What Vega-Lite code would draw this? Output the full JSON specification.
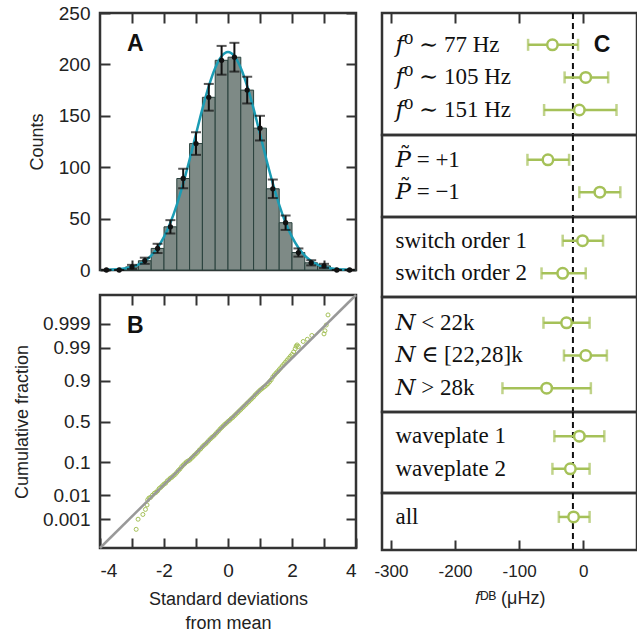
{
  "$schema": "https://vega.github.io/schema/vega-lite/v6.json",
  "padding": {"left": 12, "top": 2, "right": 0, "bottom": 0},
  "config": {
    "view": {"stroke": "#333333", "strokeWidth": 2.5},
    "axis": {"domain": false, "grid": false, "tickColor": "#333333", "tickWidth": 2, "tickSize": -10, "labelFont": "Liberation Sans", "labelFontSize": 19, "labelColor": "#222222", "labelPadding": 20, "titleFont": "Liberation Sans", "titleFontSize": 18, "titleFontWeight": "normal", "titleColor": "#222222"},
    "text": {"font": "Liberation Sans"}
  },
  "datasets": {
    "hist": [
      {"x0": -4.0, "x1": -3.6, "xc": -3.8, "count": 0, "lo": 0, "hi": 0},
      {"x0": -3.6, "x1": -3.2, "xc": -3.4, "count": 0, "lo": 0, "hi": 0},
      {"x0": -3.2, "x1": -2.8, "xc": -3.0, "count": 3, "lo": 1, "hi": 5},
      {"x0": -2.8, "x1": -2.4, "xc": -2.6, "count": 9, "lo": 6, "hi": 12},
      {"x0": -2.4, "x1": -2.0, "xc": -2.2, "count": 21, "lo": 16.5, "hi": 25.5},
      {"x0": -2.0, "x1": -1.6, "xc": -1.8, "count": 42, "lo": 35.5, "hi": 48.5},
      {"x0": -1.6, "x1": -1.2, "xc": -1.4, "count": 89, "lo": 79.5, "hi": 98.5},
      {"x0": -1.2, "x1": -0.8, "xc": -1.0, "count": 123, "lo": 112, "hi": 134},
      {"x0": -0.8, "x1": -0.4, "xc": -0.6, "count": 168, "lo": 155, "hi": 181},
      {"x0": -0.4, "x1": 0.0, "xc": -0.2, "count": 204, "lo": 190, "hi": 218},
      {"x0": 0.0, "x1": 0.4, "xc": 0.2, "count": 207, "lo": 193, "hi": 221},
      {"x0": 0.4, "x1": 0.8, "xc": 0.6, "count": 175, "lo": 162, "hi": 188},
      {"x0": 0.8, "x1": 1.2, "xc": 1.0, "count": 138, "lo": 126, "hi": 150},
      {"x0": 1.2, "x1": 1.6, "xc": 1.4, "count": 79, "lo": 70, "hi": 88},
      {"x0": 1.6, "x1": 2.0, "xc": 1.8, "count": 46, "lo": 39, "hi": 53},
      {"x0": 2.0, "x1": 2.4, "xc": 2.2, "count": 17, "lo": 13, "hi": 21},
      {"x0": 2.4, "x1": 2.8, "xc": 2.6, "count": 7, "lo": 4.5, "hi": 9.5},
      {"x0": 2.8, "x1": 3.2, "xc": 3.0, "count": 4, "lo": 2, "hi": 6},
      {"x0": 3.2, "x1": 3.6, "xc": 3.4, "count": 0, "lo": 0, "hi": 0},
      {"x0": 3.6, "x1": 4.0, "xc": 3.8, "count": 0, "lo": 0, "hi": 0}
    ],
    "curve": [
      {"x": -3.8, "y": 0.2}, {"x": -3.6, "y": 0.5}, {"x": -3.4, "y": 0.9}, {"x": -3.2, "y": 1.7},
      {"x": -3.0, "y": 3.0}, {"x": -2.8, "y": 5.3}, {"x": -2.6, "y": 8.8}, {"x": -2.4, "y": 14.0},
      {"x": -2.2, "y": 21.7}, {"x": -2.0, "y": 32.2}, {"x": -1.8, "y": 46.0}, {"x": -1.6, "y": 63.4},
      {"x": -1.4, "y": 84.2}, {"x": -1.2, "y": 107.5}, {"x": -1.0, "y": 132.3}, {"x": -0.8, "y": 156.8},
      {"x": -0.6, "y": 178.9}, {"x": -0.4, "y": 196.6}, {"x": -0.2, "y": 208.0}, {"x": 0.0, "y": 212.0},
      {"x": 0.2, "y": 208.0}, {"x": 0.4, "y": 196.6}, {"x": 0.6, "y": 178.9}, {"x": 0.8, "y": 156.8},
      {"x": 1.0, "y": 132.3}, {"x": 1.2, "y": 107.5}, {"x": 1.4, "y": 84.2}, {"x": 1.6, "y": 63.4},
      {"x": 1.8, "y": 46.0}, {"x": 2.0, "y": 32.2}, {"x": 2.2, "y": 21.7}, {"x": 2.4, "y": 14.0},
      {"x": 2.6, "y": 8.8}, {"x": 2.8, "y": 5.3}, {"x": 3.0, "y": 3.0}, {"x": 3.2, "y": 1.7},
      {"x": 3.4, "y": 0.9}, {"x": 3.6, "y": 0.5}, {"x": 3.8, "y": 0.2}
    ],
    "qq": [
      {"x": -2.87, "y": -3.41}, {"x": -2.81, "y": -3.09}, {"x": -2.66, "y": -2.94}, {"x": -2.58, "y": -2.78},
      {"x": -2.53, "y": -2.64}, {"x": -2.51, "y": -2.48}, {"x": -2.47, "y": -2.42}, {"x": -2.42, "y": -2.40},
      {"x": -2.36, "y": -2.33}, {"x": -2.30, "y": -2.27}, {"x": -2.25, "y": -2.24}, {"x": -2.20, "y": -2.19},
      {"x": -2.15, "y": -2.12}, {"x": -2.10, "y": -2.08}, {"x": -2.05, "y": -2.03}, {"x": -2.00, "y": -1.98},
      {"x": -1.95, "y": -1.95}, {"x": -1.90, "y": -1.88}, {"x": -1.85, "y": -1.84}, {"x": -1.80, "y": -1.79},
      {"x": -1.75, "y": -1.76}, {"x": -1.70, "y": -1.71}, {"x": -1.65, "y": -1.67}, {"x": -1.60, "y": -1.61},
      {"x": -1.55, "y": -1.55}, {"x": -1.50, "y": -1.50}, {"x": -1.45, "y": -1.43}, {"x": -1.40, "y": -1.38},
      {"x": -1.35, "y": -1.33}, {"x": -1.30, "y": -1.28}, {"x": -1.25, "y": -1.25}, {"x": -1.20, "y": -1.22},
      {"x": -1.15, "y": -1.17}, {"x": -1.10, "y": -1.12}, {"x": -1.05, "y": -1.07}, {"x": -1.00, "y": -1.02},
      {"x": -0.95, "y": -0.97}, {"x": -0.90, "y": -0.91}, {"x": -0.85, "y": -0.86}, {"x": -0.80, "y": -0.80},
      {"x": -0.75, "y": -0.75}, {"x": -0.70, "y": -0.71}, {"x": -0.65, "y": -0.66}, {"x": -0.60, "y": -0.60},
      {"x": -0.55, "y": -0.55}, {"x": -0.50, "y": -0.50}, {"x": -0.45, "y": -0.46}, {"x": -0.40, "y": -0.41},
      {"x": -0.35, "y": -0.35}, {"x": -0.30, "y": -0.30}, {"x": -0.25, "y": -0.24}, {"x": -0.20, "y": -0.19},
      {"x": -0.15, "y": -0.14}, {"x": -0.10, "y": -0.09}, {"x": -0.05, "y": -0.05}, {"x": 0.00, "y": 0.00},
      {"x": 0.05, "y": 0.04}, {"x": 0.10, "y": 0.09}, {"x": 0.15, "y": 0.13}, {"x": 0.20, "y": 0.18},
      {"x": 0.25, "y": 0.23}, {"x": 0.30, "y": 0.28}, {"x": 0.35, "y": 0.33}, {"x": 0.40, "y": 0.38},
      {"x": 0.45, "y": 0.43}, {"x": 0.50, "y": 0.48}, {"x": 0.55, "y": 0.53}, {"x": 0.60, "y": 0.58},
      {"x": 0.65, "y": 0.63}, {"x": 0.70, "y": 0.68}, {"x": 0.75, "y": 0.73}, {"x": 0.80, "y": 0.78},
      {"x": 0.85, "y": 0.84}, {"x": 0.90, "y": 0.89}, {"x": 0.95, "y": 0.94}, {"x": 1.00, "y": 0.99},
      {"x": 1.05, "y": 1.03}, {"x": 1.10, "y": 1.07}, {"x": 1.15, "y": 1.11}, {"x": 1.20, "y": 1.15},
      {"x": 1.25, "y": 1.20}, {"x": 1.30, "y": 1.26}, {"x": 1.35, "y": 1.32}, {"x": 1.40, "y": 1.41},
      {"x": 1.45, "y": 1.47}, {"x": 1.50, "y": 1.53}, {"x": 1.55, "y": 1.58}, {"x": 1.60, "y": 1.64},
      {"x": 1.65, "y": 1.70}, {"x": 1.70, "y": 1.76}, {"x": 1.75, "y": 1.82}, {"x": 1.80, "y": 1.88},
      {"x": 1.85, "y": 1.94}, {"x": 1.90, "y": 2.00}, {"x": 1.95, "y": 2.06}, {"x": 2.00, "y": 2.12},
      {"x": 2.05, "y": 2.20}, {"x": 2.10, "y": 2.30}, {"x": 2.13, "y": 2.38}, {"x": 2.16, "y": 2.42},
      {"x": 2.20, "y": 2.37}, {"x": 2.35, "y": 2.53}, {"x": 2.48, "y": 2.60}, {"x": 2.62, "y": 2.72},
      {"x": 3.00, "y": 2.77}, {"x": 3.03, "y": 2.87}, {"x": 3.07, "y": 3.05}, {"x": 3.125, "y": 3.37}
    ],
    "diag": [{"x": -4, "y": -4}, {"x": 4, "y": 4}],
    "c1": [
      {"label": "𝑓⁰ ∼ 77 Hz", "v": -48, "lo": -86, "hi": -8},
      {"label": "𝑓⁰ ∼ 105 Hz", "v": 4, "lo": -29, "hi": 39},
      {"label": "𝑓⁰ ∼ 151 Hz", "v": -6, "lo": -61, "hi": 52}
    ],
    "c2": [
      {"label": "𝑃̃ = +1", "v": -55, "lo": -87, "hi": -22},
      {"label": "𝑃̃ = −1", "v": 26, "lo": -6, "hi": 58}
    ],
    "c3": [
      {"label": "switch order 1", "v": -1, "lo": -32, "hi": 31},
      {"label": "switch order 2", "v": -32, "lo": -65, "hi": 4}
    ],
    "c4": [
      {"label": "𝑁 < 22k", "v": -26, "lo": -62, "hi": 10},
      {"label": "𝑁 ∈ [22,28]k", "v": 4, "lo": -30, "hi": 37},
      {"label": "𝑁 > 28k", "v": -57, "lo": -126, "hi": 12}
    ],
    "c5": [
      {"label": "waveplate 1", "v": -6, "lo": -45, "hi": 33},
      {"label": "waveplate 2", "v": -20, "lo": -48, "hi": 10}
    ],
    "c6": [
      {"label": "all", "v": -15, "lo": -38, "hi": 10}
    ],
    "one": [{"t": "x"}]
  },
  "spacing": 9,
  "hconcat": [
    {
      "spacing": 25,
      "bounds": "flush",
      "vconcat": [
        {
          "width": 256, "height": 257,
          "resolve": {"axis": {"x": "independent", "y": "independent"}},
          "layer": [
            {
              "data": {"name": "hist"},
              "mark": {"type": "rect", "fill": "#7e8a86", "stroke": "#28403c", "strokeWidth": 1},
              "encoding": {
                "x": {"field": "x0", "type": "quantitative", "scale": {"domain": [-4, 4], "nice": false, "zero": false}, "axis": {"orient": "bottom", "values": [-3, -2, -1, 0, 1, 2, 3], "labels": false, "title": null}},
                "x2": {"field": "x1"},
                "y": {"field": "count", "type": "quantitative", "scale": {"domain": [0, 250], "nice": false}, "axis": {"orient": "left", "values": [0, 50, 100, 150, 200, 250], "title": "Counts", "titlePadding": 12}},
                "y2": {"datum": 0}
              }
            },
            {
              "data": {"name": "curve"},
              "mark": {"type": "line", "color": "#1b9cb4", "strokeWidth": 2.5, "interpolate": "monotone"},
              "encoding": {
                "x": {"field": "x", "type": "quantitative", "axis": {"orient": "top", "values": [-3, -2, -1, 0, 1, 2, 3], "labels": false, "title": null}},
                "y": {"field": "y", "type": "quantitative", "axis": {"orient": "right", "values": [0, 50, 100, 150, 200, 250], "labels": false, "title": null}}
              }
            },
            {
              "data": {"name": "hist"},
              "mark": {"type": "rule", "color": "#111111", "strokeWidth": 2},
              "encoding": {
                "x": {"field": "xc", "type": "quantitative", "axis": null},
                "y": {"field": "lo", "type": "quantitative", "axis": null},
                "y2": {"field": "hi"}
              }
            },
            {
              "data": {"name": "hist"},
              "mark": {"type": "tick", "orient": "horizontal", "color": "#111111", "size": 10, "thickness": 2},
              "encoding": {
                "x": {"field": "xc", "type": "quantitative", "axis": null},
                "y": {"field": "lo", "type": "quantitative", "axis": null}
              }
            },
            {
              "data": {"name": "hist"},
              "mark": {"type": "tick", "orient": "horizontal", "color": "#111111", "size": 10, "thickness": 2},
              "encoding": {
                "x": {"field": "xc", "type": "quantitative", "axis": null},
                "y": {"field": "hi", "type": "quantitative", "axis": null}
              }
            },
            {
              "data": {"name": "hist"},
              "mark": {"type": "point", "shape": "circle", "filled": true, "color": "#111111", "size": 28, "opacity": 1},
              "encoding": {
                "x": {"field": "xc", "type": "quantitative", "axis": null},
                "y": {"field": "count", "type": "quantitative", "axis": null}
              }
            },
            {
              "data": {"name": "one"},
              "mark": {"type": "text", "text": "A", "fontSize": 23, "fontWeight": "bold", "align": "left", "baseline": "alphabetic", "color": "#111111"},
              "encoding": {
                "x": {"datum": -3.16, "type": "quantitative", "axis": null},
                "y": {"datum": 213, "type": "quantitative", "axis": null}
              }
            }
          ]
        },
        {
          "width": 256, "height": 253,
          "resolve": {"axis": {"x": "independent", "y": "independent"}},
          "layer": [
            {
              "data": {"name": "qq"},
              "mark": {"type": "point", "shape": "circle", "filled": false, "color": "#a5c158", "size": 16, "strokeWidth": 1, "opacity": 1},
              "encoding": {
                "x": {"field": "x", "type": "quantitative", "scale": {"domain": [-4, 4], "nice": false, "zero": false}, "axis": {"orient": "bottom", "values": [-4, -3, -2, -1, 0, 1, 2, 3, 4], "labelExpr": "datum.value % 2 === 0 ? '' + datum.value : ''", "labelPadding": 23, "title": ["Standard deviations", "from mean"], "titlePadding": 10, "titleLineHeight": 24}},
                "y": {"field": "y", "type": "quantitative", "scale": {"domain": [-4, 4], "nice": false, "zero": false}, "axis": {"orient": "left", "values": [-3.0902, -2.3263, -1.2816, 0, 1.2816, 2.3263, 3.0902], "labelExpr": "datum.value < -3 ? '0.001' : datum.value < -2 ? '0.01' : datum.value < -1 ? '0.1' : datum.value < 1 ? '0.5' : datum.value < 2 ? '0.9' : datum.value < 3 ? '0.99' : '0.999'", "title": "Cumulative fraction", "titlePadding": 11}}
              }
            },
            {
              "data": {"name": "diag"},
              "mark": {"type": "line", "color": "#999999", "strokeWidth": 2.5},
              "encoding": {
                "x": {"field": "x", "type": "quantitative", "axis": {"orient": "top", "values": [-3, -2, -1, 0, 1, 2, 3], "labels": false, "title": null}},
                "y": {"field": "y", "type": "quantitative", "axis": {"orient": "right", "values": [-3.0902, -2.3263, -1.2816, 0, 1.2816, 2.3263, 3.0902], "labels": false, "title": null}}
              }
            },
            {
              "data": {"name": "one"},
              "mark": {"type": "text", "text": "B", "fontSize": 23, "fontWeight": "bold", "align": "left", "baseline": "alphabetic", "color": "#111111"},
              "encoding": {
                "x": {"datum": -3.16, "type": "quantitative", "axis": null},
                "y": {"datum": 2.8, "type": "quantitative", "axis": null}
              }
            }
          ]
        }
      ]
    },
    {
      "spacing": 0,
      "bounds": "flush",
      "vconcat": [
        {
          "width": 255, "height": 122,
          "data": {"name": "c1"},
          "layer": [
            {"data": {"name": "one"}, "mark": {"type": "rule", "color": "#111111", "strokeWidth": 2, "strokeDash": [6, 4]}, "encoding": {"x": {"datum": -16, "type": "quantitative", "scale": {"domain": [-314, 84], "nice": false, "zero": false}, "axis": {"orient": "top", "values": [-300, -250, -200, -150, -100, -50, 0, 50], "labels": false, "title": null}}}},
            {"mark": {"type": "rule", "color": "#a5c158", "strokeWidth": 2.5}, "encoding": {"x": {"field": "lo", "type": "quantitative"}, "x2": {"field": "hi"}, "y": {"field": "label", "type": "nominal", "sort": null, "scale": {"type": "point", "padding": 0.871, "align": 0.56}, "axis": null}}},
            {"mark": {"type": "tick", "color": "#a5c158", "size": 12, "thickness": 2.5}, "encoding": {"x": {"field": "lo", "type": "quantitative"}, "y": {"field": "label", "type": "nominal", "sort": null, "axis": null}}},
            {"mark": {"type": "tick", "color": "#a5c158", "size": 12, "thickness": 2.5}, "encoding": {"x": {"field": "hi", "type": "quantitative"}, "y": {"field": "label", "type": "nominal", "sort": null, "axis": null}}},
            {"mark": {"type": "point", "shape": "circle", "filled": true, "fill": "white", "stroke": "#a5c158", "strokeWidth": 2.5, "size": 110, "opacity": 1}, "encoding": {"x": {"field": "v", "type": "quantitative"}, "y": {"field": "label", "type": "nominal", "sort": null, "axis": null}}},
            {"mark": {"type": "text", "font": "Liberation Serif, DejaVu Serif", "fontSize": 23, "align": "left", "baseline": "middle", "color": "#111111"}, "encoding": {"x": {"datum": -293, "type": "quantitative"}, "y": {"field": "label", "type": "nominal", "sort": null, "axis": null}, "text": {"field": "label"}}},
            {"data": {"name": "one"}, "mark": {"type": "text", "text": "C", "fontSize": 23, "fontWeight": "bold", "align": "left", "baseline": "middle", "color": "#111111"}, "encoding": {"x": {"datum": 16.5, "type": "quantitative"}, "y": {"datum": "𝑓⁰ ∼ 77 Hz", "type": "nominal", "axis": null}}}
          ]
        },
        {
          "width": 255, "height": 82,
          "data": {"name": "c2"},
          "layer": [
            {"data": {"name": "one"}, "mark": {"type": "rule", "color": "#111111", "strokeWidth": 2, "strokeDash": [6, 4]}, "encoding": {"x": {"datum": -16, "type": "quantitative", "scale": {"domain": [-314, 84], "nice": false, "zero": false}, "axis": null}}},
            {"mark": {"type": "rule", "color": "#a5c158", "strokeWidth": 2.5}, "encoding": {"x": {"field": "lo", "type": "quantitative", "axis": null}, "x2": {"field": "hi"}, "y": {"field": "label", "type": "nominal", "sort": null, "scale": {"type": "point", "padding": 0.765, "align": 0.5}, "axis": null}}},
            {"mark": {"type": "tick", "color": "#a5c158", "size": 12, "thickness": 2.5}, "encoding": {"x": {"field": "lo", "type": "quantitative", "axis": null}, "y": {"field": "label", "type": "nominal", "sort": null, "axis": null}}},
            {"mark": {"type": "tick", "color": "#a5c158", "size": 12, "thickness": 2.5}, "encoding": {"x": {"field": "hi", "type": "quantitative", "axis": null}, "y": {"field": "label", "type": "nominal", "sort": null, "axis": null}}},
            {"mark": {"type": "point", "shape": "circle", "filled": true, "fill": "white", "stroke": "#a5c158", "strokeWidth": 2.5, "size": 110, "opacity": 1}, "encoding": {"x": {"field": "v", "type": "quantitative", "axis": null}, "y": {"field": "label", "type": "nominal", "sort": null, "axis": null}}},
            {"mark": {"type": "text", "font": "Liberation Serif, DejaVu Serif", "fontSize": 23, "align": "left", "baseline": "middle", "color": "#111111"}, "encoding": {"x": {"datum": -293, "type": "quantitative", "axis": null}, "y": {"field": "label", "type": "nominal", "sort": null, "axis": null}, "text": {"field": "label"}}}
          ]
        },
        {
          "width": 255, "height": 80,
          "data": {"name": "c3"},
          "layer": [
            {"data": {"name": "one"}, "mark": {"type": "rule", "color": "#111111", "strokeWidth": 2, "strokeDash": [6, 4]}, "encoding": {"x": {"datum": -16, "type": "quantitative", "scale": {"domain": [-314, 84], "nice": false, "zero": false}, "axis": null}}},
            {"mark": {"type": "rule", "color": "#a5c158", "strokeWidth": 2.5}, "encoding": {"x": {"field": "lo", "type": "quantitative", "axis": null}, "x2": {"field": "hi"}, "y": {"field": "label", "type": "nominal", "sort": null, "scale": {"type": "point", "padding": 0.723, "align": 0.5}, "axis": null}}},
            {"mark": {"type": "tick", "color": "#a5c158", "size": 12, "thickness": 2.5}, "encoding": {"x": {"field": "lo", "type": "quantitative", "axis": null}, "y": {"field": "label", "type": "nominal", "sort": null, "axis": null}}},
            {"mark": {"type": "tick", "color": "#a5c158", "size": 12, "thickness": 2.5}, "encoding": {"x": {"field": "hi", "type": "quantitative", "axis": null}, "y": {"field": "label", "type": "nominal", "sort": null, "axis": null}}},
            {"mark": {"type": "point", "shape": "circle", "filled": true, "fill": "white", "stroke": "#a5c158", "strokeWidth": 2.5, "size": 110, "opacity": 1}, "encoding": {"x": {"field": "v", "type": "quantitative", "axis": null}, "y": {"field": "label", "type": "nominal", "sort": null, "axis": null}}},
            {"mark": {"type": "text", "font": "Liberation Serif, DejaVu Serif", "fontSize": 23, "align": "left", "baseline": "middle", "color": "#111111"}, "encoding": {"x": {"datum": -293, "type": "quantitative", "axis": null}, "y": {"field": "label", "type": "nominal", "sort": null, "axis": null}, "text": {"field": "label"}}}
          ]
        },
        {
          "width": 255, "height": 115,
          "data": {"name": "c4"},
          "layer": [
            {"data": {"name": "one"}, "mark": {"type": "rule", "color": "#111111", "strokeWidth": 2, "strokeDash": [6, 4]}, "encoding": {"x": {"datum": -16, "type": "quantitative", "scale": {"domain": [-314, 84], "nice": false, "zero": false}, "axis": null}}},
            {"mark": {"type": "rule", "color": "#a5c158", "strokeWidth": 2.5}, "encoding": {"x": {"field": "lo", "type": "quantitative", "axis": null}, "x2": {"field": "hi"}, "y": {"field": "label", "type": "nominal", "sort": null, "scale": {"type": "point", "padding": 0.758, "align": 0.52}, "axis": null}}},
            {"mark": {"type": "tick", "color": "#a5c158", "size": 12, "thickness": 2.5}, "encoding": {"x": {"field": "lo", "type": "quantitative", "axis": null}, "y": {"field": "label", "type": "nominal", "sort": null, "axis": null}}},
            {"mark": {"type": "tick", "color": "#a5c158", "size": 12, "thickness": 2.5}, "encoding": {"x": {"field": "hi", "type": "quantitative", "axis": null}, "y": {"field": "label", "type": "nominal", "sort": null, "axis": null}}},
            {"mark": {"type": "point", "shape": "circle", "filled": true, "fill": "white", "stroke": "#a5c158", "strokeWidth": 2.5, "size": 110, "opacity": 1}, "encoding": {"x": {"field": "v", "type": "quantitative", "axis": null}, "y": {"field": "label", "type": "nominal", "sort": null, "axis": null}}},
            {"mark": {"type": "text", "font": "Liberation Serif, DejaVu Serif", "fontSize": 23, "align": "left", "baseline": "middle", "color": "#111111"}, "encoding": {"x": {"datum": -293, "type": "quantitative", "axis": null}, "y": {"field": "label", "type": "nominal", "sort": null, "axis": null}, "text": {"field": "label"}}}
          ]
        },
        {
          "width": 255, "height": 81,
          "data": {"name": "c5"},
          "layer": [
            {"data": {"name": "one"}, "mark": {"type": "rule", "color": "#111111", "strokeWidth": 2, "strokeDash": [6, 4]}, "encoding": {"x": {"datum": -16, "type": "quantitative", "scale": {"domain": [-314, 84], "nice": false, "zero": false}, "axis": null}}},
            {"mark": {"type": "rule", "color": "#a5c158", "strokeWidth": 2.5}, "encoding": {"x": {"field": "lo", "type": "quantitative", "axis": null}, "x2": {"field": "hi"}, "y": {"field": "label", "type": "nominal", "sort": null, "scale": {"type": "point", "padding": 0.742, "align": 0.5}, "axis": null}}},
            {"mark": {"type": "tick", "color": "#a5c158", "size": 12, "thickness": 2.5}, "encoding": {"x": {"field": "lo", "type": "quantitative", "axis": null}, "y": {"field": "label", "type": "nominal", "sort": null, "axis": null}}},
            {"mark": {"type": "tick", "color": "#a5c158", "size": 12, "thickness": 2.5}, "encoding": {"x": {"field": "hi", "type": "quantitative", "axis": null}, "y": {"field": "label", "type": "nominal", "sort": null, "axis": null}}},
            {"mark": {"type": "point", "shape": "circle", "filled": true, "fill": "white", "stroke": "#a5c158", "strokeWidth": 2.5, "size": 110, "opacity": 1}, "encoding": {"x": {"field": "v", "type": "quantitative", "axis": null}, "y": {"field": "label", "type": "nominal", "sort": null, "axis": null}}},
            {"mark": {"type": "text", "font": "Liberation Serif, DejaVu Serif", "fontSize": 23, "align": "left", "baseline": "middle", "color": "#111111"}, "encoding": {"x": {"datum": -293, "type": "quantitative", "axis": null}, "y": {"field": "label", "type": "nominal", "sort": null, "axis": null}, "text": {"field": "label"}}}
          ]
        },
        {
          "width": 255, "height": 57,
          "data": {"name": "c6"},
          "layer": [
            {"data": {"name": "one"}, "mark": {"type": "rule", "color": "#111111", "strokeWidth": 2, "strokeDash": [6, 4]}, "encoding": {"x": {"datum": -16, "type": "quantitative", "scale": {"domain": [-314, 84], "nice": false, "zero": false}, "axis": {"orient": "bottom", "values": [-300, -250, -200, -150, -100, -50, 0, 50], "labelExpr": "datum.value % 100 === 0 ? '' + datum.value : ''", "labelPadding": 23, "labelFontSize": 17, "title": "𝑓ᴰᴮ (μHz)", "titlePadding": 10}}}},
            {"mark": {"type": "rule", "color": "#a5c158", "strokeWidth": 2.5}, "encoding": {"x": {"field": "lo", "type": "quantitative"}, "x2": {"field": "hi"}, "y": {"field": "label", "type": "nominal", "sort": null, "scale": {"type": "point", "padding": 0.75, "align": 0.42}, "axis": null}}},
            {"mark": {"type": "tick", "color": "#a5c158", "size": 12, "thickness": 2.5}, "encoding": {"x": {"field": "lo", "type": "quantitative"}, "y": {"field": "label", "type": "nominal", "sort": null, "axis": null}}},
            {"mark": {"type": "tick", "color": "#a5c158", "size": 12, "thickness": 2.5}, "encoding": {"x": {"field": "hi", "type": "quantitative"}, "y": {"field": "label", "type": "nominal", "sort": null, "axis": null}}},
            {"mark": {"type": "point", "shape": "circle", "filled": true, "fill": "white", "stroke": "#a5c158", "strokeWidth": 2.5, "size": 110, "opacity": 1}, "encoding": {"x": {"field": "v", "type": "quantitative"}, "y": {"field": "label", "type": "nominal", "sort": null, "axis": null}}},
            {"mark": {"type": "text", "font": "Liberation Serif, DejaVu Serif", "fontSize": 23, "align": "left", "baseline": "middle", "color": "#111111"}, "encoding": {"x": {"datum": -293, "type": "quantitative"}, "y": {"field": "label", "type": "nominal", "sort": null, "axis": null}, "text": {"field": "label"}}}
          ]
        }
      ]
    }
  ]
}
